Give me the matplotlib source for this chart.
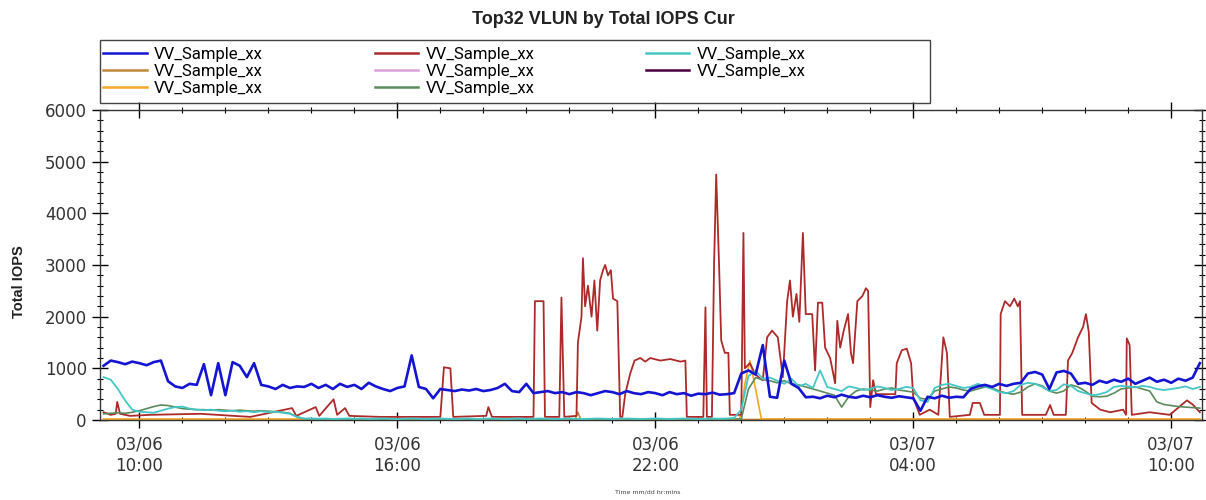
import matplotlib
matplotlib.use("Agg")
import matplotlib.dates as mdates
import matplotlib.pyplot as plt
import matplotlib.ticker as ticker
import pandas as pd
from matplotlib.patches import Rectangle

# Sample grid for the densely logged volumes: every 10 minutes, 03/06 09:10 -> 03/07 10:40
GRID_START = "2023-03-06 09:10"
GRID_STEP = "10min"

# VV 1 (blue), one row per hour
blue_iops = [
    1050, 1150, 1120, 1080, 1130,               # 09
    1100, 1060, 1120, 1150, 750, 650,           # 10
    620, 700, 680, 1080, 480, 1100,             # 11
    480, 1120, 1050, 830, 1100, 680,            # 12
    650, 600, 680, 620, 650, 640,               # 13
    700, 620, 680, 600, 700, 640,               # 14
    680, 600, 720, 650, 600, 560,               # 15
    620, 650, 1250, 640, 600, 420,              # 16
    600, 580, 560, 590, 570, 600,               # 17
    560, 580, 620, 700, 560, 540,               # 18
    700, 520, 540, 560, 520, 540,               # 19
    500, 540, 520, 480, 520, 560,               # 20
    540, 500, 560, 520, 500, 540,               # 21
    520, 480, 540, 500, 520, 470,               # 22
    510, 500, 530, 490, 500, 520,               # 23
    900, 960, 880, 1450, 450, 430,              # 00
    1150, 700, 620, 440, 450, 420,              # 01
    470, 440, 490, 450, 430, 470,               # 02
    440, 480, 450, 430, 460, 440,               # 03
    420, 180, 450, 420, 470, 430,               # 04
    450, 440, 600, 650, 680, 640,               # 05
    700, 660, 700, 720, 900, 930,               # 06
    880, 600, 920, 950, 900, 700,               # 07
    720, 680, 760, 720, 780, 740,               # 08
    800, 700, 760, 820, 740, 780,               # 09
    720, 800, 760, 820, 1100,                   # 10
]

# VV 7 (turquoise)
cyan_iops = [
    830, 780, 600, 380, 200,
    160, 150, 140, 180, 220, 250,
    260, 220, 200, 190, 200, 180,
    170, 180, 160, 170, 150, 170,
    150, 160, 140, 120, 60, 30,
    30, 25, 30, 20, 25, 30,
    25, 30, 20, 25, 30, 25,
    20, 25, 30, 25, 20, 25,
    30, 25, 20, 25, 30, 20,
    25, 30, 25, 20, 25, 30,
    20, 25, 30, 25, 20, 25,
    30, 25, 20, 25, 30, 25,
    20, 25, 30, 25, 20, 25,
    30, 25, 20, 25, 30, 25,
    20, 25, 30, 25, 30, 40,
    200, 850, 950, 800, 820, 760,
    700, 800, 650, 700, 620, 960,
    640, 600, 560, 650, 620, 580,
    600, 650, 620, 580, 600, 640,
    620, 380, 350, 620, 680, 700,
    660, 620, 640, 700, 650, 600,
    540, 520, 560, 680, 720, 700,
    640, 560, 580, 690, 660, 560,
    520, 480, 500, 540, 640, 660,
    650, 630, 660, 640, 600, 580,
    600, 620, 650, 600, 640,
]

# VV 6 (olive green)
green_iops = [
    120, 130, 140, 130, 150,
    180, 220, 260, 290, 280, 250,
    220, 210, 200, 200, 190, 200,
    190, 180, 190, 180, 170, 180,
    170, 160, 150, 130, 60, 20,
    20, 15, 20, 15, 20, 15,
    15, 20, 15, 20, 15, 20,
    20, 15, 20, 15, 20, 15,
    15, 20, 15, 20, 15, 20,
    20, 15, 20, 15, 20, 15,
    15, 20, 15, 20, 15, 20,
    20, 15, 20, 15, 20, 15,
    15, 20, 15, 20, 15, 20,
    20, 15, 20, 15, 20, 15,
    15, 20, 15, 20, 15, 20,
    20, 600, 820, 780, 760, 720,
    760, 700, 680, 640, 600, 560,
    520, 480, 250, 450, 560, 600,
    580, 560, 600, 620, 580, 560,
    540, 420, 400, 560, 600, 640,
    620, 580, 560, 600, 640, 620,
    560, 520, 500, 540, 640, 700,
    660, 560, 520, 560, 680, 640,
    560, 460, 450, 460, 520, 600,
    620, 640, 600, 560, 350, 300,
    280, 260, 250, 240, 230,
]

# VV 4 (dark red): bursty volume, logged as clock time / value pairs
red_clock = [
    "09:10", "09:20", "09:27", "09:29", "09:33", "09:47", "10:15", "11:25", "12:35", "13:33",
    "13:39", "14:06", "14:11", "14:31", "14:36", "14:47", "14:53", "15:36", "17:00", "17:05",
    "17:14", "17:18", "18:04", "18:07", "18:12", "19:10", "19:12", "19:24", "19:26", "19:46",
    "19:49", "19:53", "20:10", "20:12", "20:17", "20:19", "20:22", "20:26", "20:31", "20:35",
    "20:39", "20:43", "20:47", "20:50", "20:54", "20:58", "21:01", "21:07", "21:11", "21:14",
    "21:18", "21:25", "21:31", "21:39", "21:46", "21:53", "22:07", "22:21", "22:35", "22:42",
    "22:44", "23:07", "23:10", "23:12", "23:19", "23:22", "23:25", "23:29", "23:32", "23:37",
    "23:42", "23:44", "00:00", "00:03", "00:05", "00:12", "00:19", "00:26", "00:30", "00:36",
    "00:43", "00:51", "00:58", "01:04", "01:08", "01:12", "01:17", "01:21", "01:26", "01:30",
    "01:39", "01:43", "01:47", "01:53", "01:57", "02:04", "02:11", "02:14", "02:18", "02:23",
    "02:29", "02:33", "02:36", "02:42", "02:49", "02:54", "02:57", "03:00", "03:04", "03:08",
    "03:35", "03:37", "03:44", "03:51", "03:57", "04:00", "04:09", "04:23", "04:35", "04:42",
    "04:47", "04:51", "05:19", "05:23", "05:33", "05:39", "06:01", "06:02", "06:08", "06:15",
    "06:21", "06:26", "06:29", "06:32", "07:05", "07:11", "07:16", "07:33", "07:36", "07:42",
    "07:50", "07:57", "08:01", "08:05", "08:09", "08:21", "08:35", "08:53", "08:57", "08:58",
    "09:02", "09:05", "09:30", "09:58", "10:22", "10:30", "10:40",
]
red_iops = [
    150, 100, 120, 350, 120, 80, 100, 120, 60, 230,
    80, 250, 80, 400, 100, 230, 80, 60, 60, 1020,
    1000, 60, 80, 250, 60, 60, 2300, 2300, 60, 60,
    2370, 60, 80, 1500, 2000, 3130, 2200, 2600, 2000, 2700,
    1730, 2700, 2900, 3000, 2800, 2900, 2350, 2300, 60, 60,
    500, 900, 1150, 1200, 1130, 1200, 1150, 1180, 1130, 1150,
    60, 60, 2180, 60, 60, 3000, 4750, 3000, 1540, 1300,
    1300, 100, 100, 3620, 1000, 1100, 900, 800, 770, 1600,
    1730, 1600, 830, 2300, 2700, 2000, 2440, 1900, 3620, 2050,
    2050, 960, 2270, 2270, 1400, 1200, 710, 1920, 1400, 1730,
    2050, 1300, 1100, 2300, 2400, 2550, 2500, 250, 770, 500,
    500, 1100, 1350, 1380, 1100, 440, 100, 200, 100, 1600,
    1300, 60, 100, 330, 330, 100, 100, 2050, 2300, 2200,
    2350, 2200, 2300, 100, 100, 290, 100, 100, 1150, 1300,
    1600, 1800, 2050, 1700, 330, 200, 150, 200, 100, 1580,
    1450, 100, 150, 100, 380, 300, 150,
]

# Quiet volumes
orange_clock = ["09:10", "23:58", "00:05", "00:12", "00:20", "00:28", "10:40"]
orange_iops = [15, 15, 700, 1150, 600, 20, 15]
gold_clock = ["09:10", "20:08", "20:12", "20:16", "10:40"]
gold_iops = [10, 10, 150, 10, 10]
violet_clock = ["09:10", "10:40"]
violet_iops = [8, 8]
purple_clock = ["09:10", "10:40"]
purple_iops = [5, 5]

SERIES_LABEL = "VV_Sample_xx"
BLUE = "#1414d2"
GOLD = "#c08a3a"
ORANGE = "#f5a623"
RED = "#ad2a2a"
VIOLET = "#d9a0d9"
OLIVE = "#5c8a5c"
CYAN = "#45c6c6"
PURPLE = "#4a0040"


def clock_to_time(labels, day="2023-03-06"):
    """Turn HH:MM strings into timestamps, rolling over to the next day at midnight."""
    base = pd.Timestamp(day)
    out, prev = [], None
    for s in labels:
        t = base + pd.Timedelta(hours=int(s[:2]), minutes=int(s[3:]))
        if prev is not None and t < prev:
            base += pd.Timedelta(days=1)
            t += pd.Timedelta(days=1)
        out.append(t)
        prev = t
    return out


grid = pd.date_range(GRID_START, periods=len(blue_iops), freq=GRID_STEP)

fig = plt.figure(figsize=(12.06, 5.0), dpi=100)
ax = fig.add_axes([100 / 1206, 1 - 420 / 500, 1102 / 1206, 310 / 500])

lines = {}
lines["purple"], = ax.plot(clock_to_time(purple_clock), purple_iops, color=PURPLE, lw=1.2, zorder=2)
lines["violet"], = ax.plot(clock_to_time(violet_clock), violet_iops, color=VIOLET, lw=1.2, zorder=2)
lines["gold"], = ax.plot(clock_to_time(gold_clock), gold_iops, color=GOLD, lw=1.2, zorder=2)
lines["orange"], = ax.plot(clock_to_time(orange_clock), orange_iops, color=ORANGE, lw=1.2, zorder=2)
lines["red"], = ax.plot(clock_to_time(red_clock), red_iops, color=RED, lw=1.3, zorder=3)
lines["olive"], = ax.plot(grid, green_iops, color=OLIVE, lw=1.2, zorder=4)
lines["cyan"], = ax.plot(grid, cyan_iops, color=CYAN, lw=1.3, zorder=5)
lines["blue"], = ax.plot(grid, blue_iops, color=BLUE, lw=1.9, zorder=6)

# Axes limits and ticks
ax.set_xlim(pd.Timestamp("2023-03-06 09:05"), pd.Timestamp("2023-03-07 10:43"))
ax.set_ylim(0, 6000)
ax.yaxis.set_major_locator(ticker.MultipleLocator(1000))
ax.yaxis.set_minor_locator(ticker.MultipleLocator(200))
ax.xaxis.set_major_locator(mdates.HourLocator(byhour=[4, 10, 16, 22]))
ax.xaxis.set_minor_locator(mdates.HourLocator())
ax.xaxis.set_major_formatter(mdates.DateFormatter("%m/%d\n%H:%M"))

ax.tick_params(which="major", direction="inout", length=11, width=1, top=True, right=True,
               labelsize=12, labelcolor="#333333", pad=4)
ax.tick_params(which="minor", direction="inout", length=5, width=0.8, top=True, right=True)
ax.tick_params(axis="x", which="major", pad=6)
for label in ax.get_xticklabels():
    label.set_horizontalalignment("center")
for spine in ax.spines.values():
    spine.set_linewidth(1.0)
    spine.set_color("#333333")

# Titles and labels
fig.text(0.5, 0.962, "Top32 VLUN by Total IOPS Cur", ha="center", va="center",
         fontsize=13, fontweight="bold", family="Liberation Sans", color="#222222")
fig.text(0.016, 0.436, "Total IOPS", rotation=90, ha="center", va="center",
         fontsize=10.5, fontweight="bold", family="Liberation Sans", color="#222222")
fig.text(615 / 1206, 1 - 492 / 500, "Time mm/dd hr:mins", ha="left", va="center",
         fontsize=4.5, color="#444444")

# Legend in a plain box above the plot
order = ["blue", "gold", "orange", "red", "violet", "olive", "cyan", "purple"]
leg = fig.legend([lines[k] for k in order], [SERIES_LABEL] * len(order),
                 loc="upper left", bbox_to_anchor=(100 / 1206, 1 - 44 / 500),
                 ncol=3, frameon=False, prop={"family": "Roboto", "size": 12},
                 handlelength=2.6, handletextpad=0.45, columnspacing=6.7,
                 labelspacing=0.1, borderaxespad=0, borderpad=0.2)
for h in leg.legend_handles:
    h.set_linewidth(1.8)
fig.add_artist(Rectangle((100 / 1206, 1 - 103 / 500), 830 / 1206, 63 / 500,
                         transform=fig.transFigure, fill=False, edgecolor="#444444", lw=1.0))

fig.savefig("out.png", dpi=100)
